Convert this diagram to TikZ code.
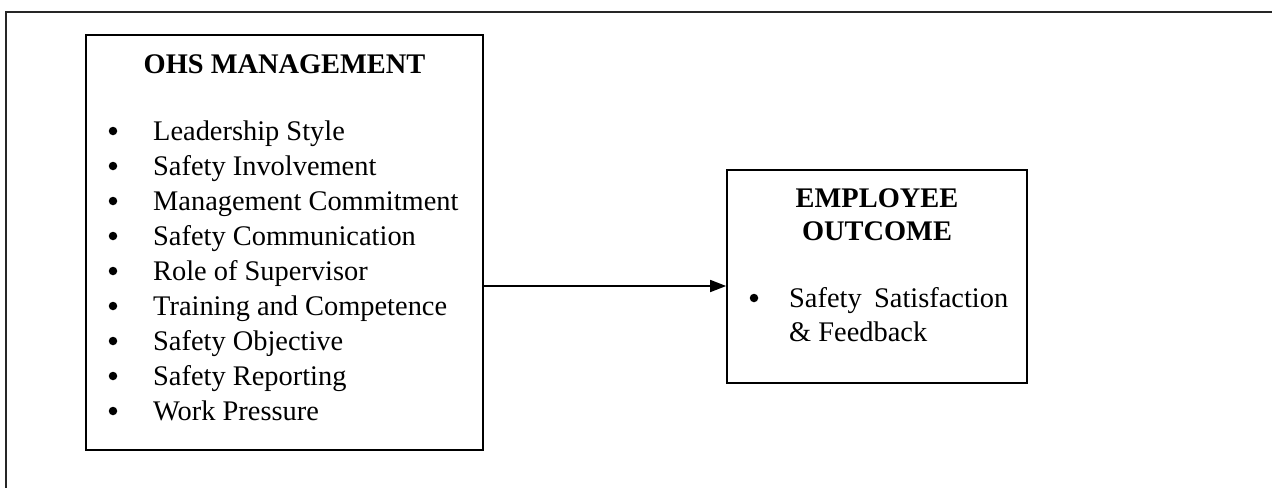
\documentclass[tikz,border=0pt]{standalone}
\usepackage{fontspec}
\setmainfont{Liberation Serif}
\usetikzlibrary{arrows.meta}
\tikzset{
  box/.style={draw=black, line width=1.7pt, rectangle, inner sep=0pt},
  frameline/.style={draw=black!85, line width=2pt},
  ttl/.style={font=\fontsize{28.4}{35}\selectfont\bfseries, anchor=base, inner sep=0pt},
  item/.style={font=\fontsize{28.4}{35}\selectfont, anchor=base west, inner sep=0pt},
  bul/.style={circle, fill=black, inner sep=0pt, minimum size=8.5pt},
  conn/.style={draw=black, line width=1.7pt, -{Triangle[length=16pt,width=12pt]}}
}
\begin{document}
\begin{tikzpicture}[x=1pt,y=-1pt]
\useasboundingbox (0,0) rectangle (1272,488);
% outer frame (open at right and bottom)
\coordinate (ftr) at (1272,12);
\coordinate (ftl) at (6,12);
\coordinate (fbl) at (6,488);
\draw[frameline] (ftr) -- (ftl) -- (fbl);
% left box
\node[box, minimum width=397pt, minimum height=415pt] (ohs) at (284.5,242.5) {};
\node[ttl] (ohsT) at (284.5,73) {OHS MANAGEMENT};
\foreach \t [count=\i] in {Leadership Style, Safety Involvement, Management Commitment, Safety Communication, Role of Supervisor, Training and Competence, Safety Objective, Safety Reporting, Work Pressure}{
  \node[bul] (b\i) at (113,{140+35*(\i-1)-9}) {};
  \node[item] (it\i) at (153,{140+35*(\i-1)}) {\t};
}
% right box
\node[box, minimum width=300pt, minimum height=213pt] (emp) at (877,276.5) {};
\node[ttl] (empT1) at (877,207) {EMPLOYEE};
\node[ttl] (empT2) at (877,240) {OUTCOME};
\node[bul] (eb) at (754,298) {};
\node[item] (e1) at (789,307) {\makebox[219pt][s]{Safety Satisfaction}};
\node[item] (e2) at (789,341) {\& Feedback};
% connector
\draw[conn] (ohs.east |- 0,286) -- (emp.west |- 0,286);
\end{tikzpicture}
\end{document}
